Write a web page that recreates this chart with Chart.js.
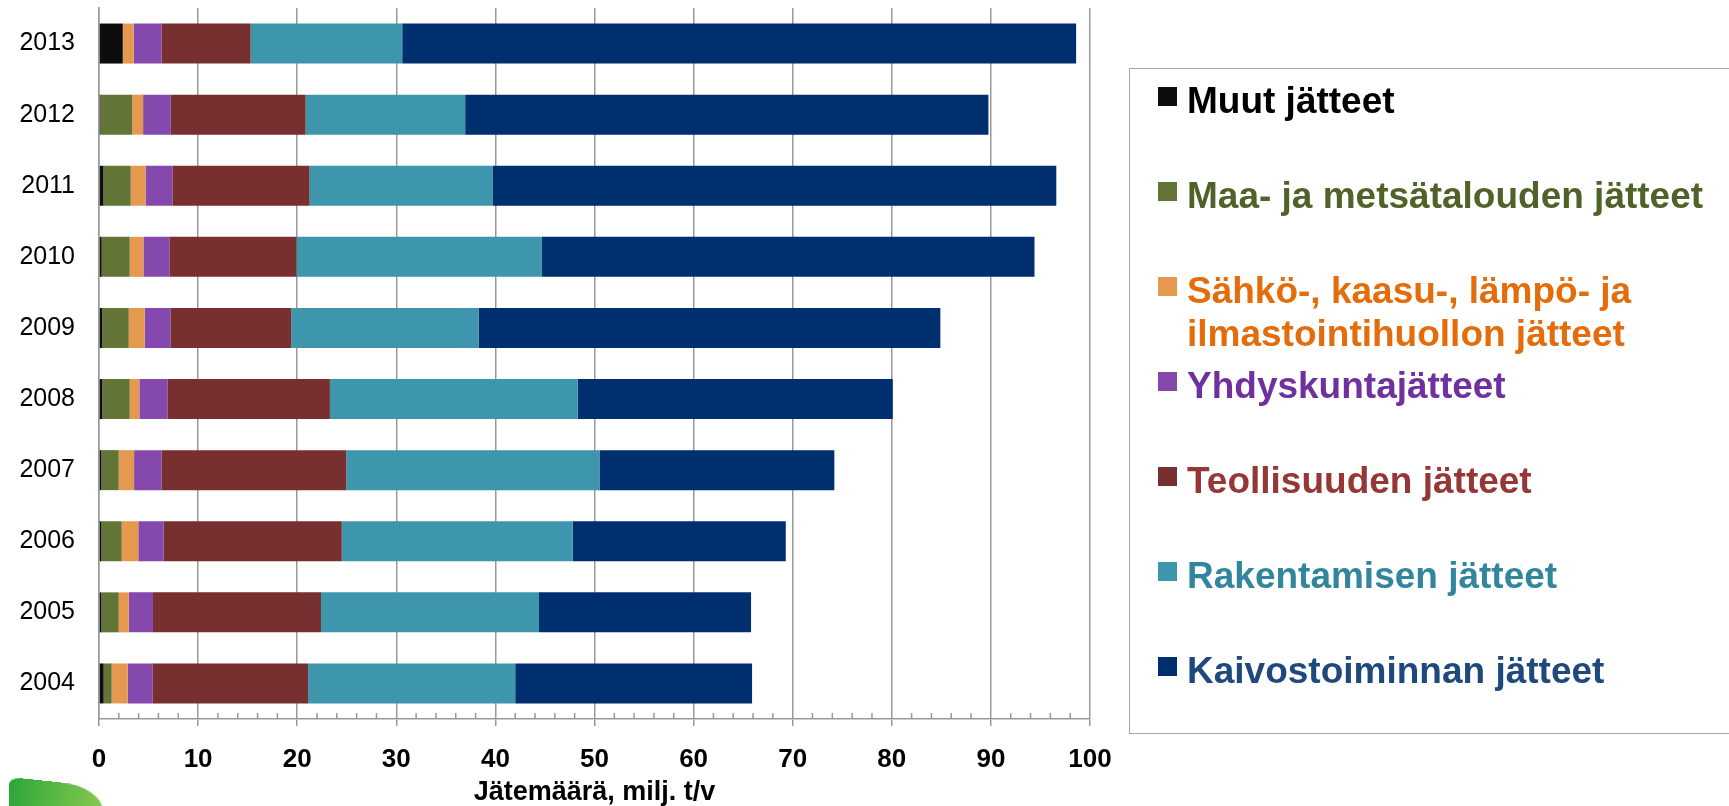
<!DOCTYPE html>
<html>
<head>
<meta charset="utf-8">
<script src="https://cdn.jsdelivr.net/npm/chart.js@4.4.0/dist/chart.umd.min.js"></script>
<style>
  body { margin: 0; background: #fff; overflow: hidden; font-family: "Liberation Sans", Arial, sans-serif; }
  #wrap { position: absolute; left: 0; top: 0; width: 1729px; height: 806px; }
  #legend { position: absolute; left: 1129px; top: 68px; width: 700px; height: 664px; border: 1.5px solid #a6a6a6; }
  .item { position: absolute; left: 28px; font-weight: bold; font-size: 37px; line-height: 43px; }
  .item .sw { position: absolute; left: 0; top: 8px; width: 19px; height: 19px; }
  .item .tx { position: absolute; left: 29px; top: 0; width: 560px; }
  #logo { position: absolute; left: 9px; top: 777px; width: 94px; height: 45px;
    background: linear-gradient(100deg, #2ca53a 0%, #5bb944 50%, #8dc951 100%);
    border-radius: 12px 40px 0 0 / 8px 24px 0 0;
    transform-origin: left top; transform: skewY(6deg); }
</style>
</head>
<body>
<div id="wrap"><canvas id="chart"></canvas></div>
<div id="legend"></div>
<div id="logo"></div>
<script>
// vuodet (alhaalta ylös)
const years = ["2004", "2005", "2006", "2007", "2008", "2009", "2010", "2011", "2012", "2013"];

// milj. t/v
const muut      = [0.47, 0.24, 0.24, 0.24, 0.34, 0.34, 0.27, 0.45, 0.15, 2.4];
const maaMetsa  = [0.81, 1.75, 2.05, 1.75, 2.76, 2.66, 2.83, 2.75, 3.2, 0];
const energia   = [1.62, 1.01, 1.68, 1.55, 0.97, 1.61, 1.38, 1.5, 1.1, 1.1];
const yhdyskunta = [2.49, 2.45, 2.56, 2.76, 2.83, 2.59, 2.62, 2.7, 2.8, 2.8];
const teollisuus = [15.71, 16.95, 17.97, 18.65, 16.4, 12.19, 12.83, 13.85, 13.6, 9.0];
const rakentaminen = [20.9, 22.0, 23.3, 25.55, 25.0, 18.91, 24.77, 18.45, 16.1, 15.3];
const kaivos    = [23.9, 21.4, 21.5, 23.7, 31.8, 46.6, 49.7, 56.9, 52.8, 68.0];

const xTicks = [0, 10, 20, 30, 40, 50, 60, 70, 80, 90, 100];

const seriesNames = [
  "Muut jätteet",
  "Maa- ja metsätalouden jätteet",
  "Sähkö-, kaasu-, lämpö- ja ilmastointihuollon jätteet",
  "Yhdyskuntajätteet",
  "Teollisuuden jätteet",
  "Rakentamisen jätteet",
  "Kaivostoiminnan jätteet",
];
const seriesData = [muut, maaMetsa, energia, yhdyskunta, teollisuus, rakentaminen, kaivos];
const barColor = ["#0d0d0d", "#627536", "#e5994f", "#8549ae", "#77302f", "#3d96ab", "#002f6f"];
const textColor = ["#000000", "#4f6228", "#e46c0a", "#7030a0", "#953735", "#31859c", "#1f497d"];

const FONT = '"Liberation Sans", Arial, sans-serif';
const GRID = "#999999";

// pienet väliviivat x-akselille
const minorTicks = {
  id: "minorTicks",
  afterDatasetsDraw(chart) {
    const x = chart.scales.x;
    const ctx = chart.ctx;
    const b = chart.chartArea.bottom;
    ctx.save();
    ctx.strokeStyle = GRID;
    ctx.lineWidth = 1.5;
    for (let v = 2; v < 100; v += 2) {
      if (v % 10 === 0) continue;
      const px = x.getPixelForValue(v);
      ctx.beginPath();
      ctx.moveTo(px, b - 6);
      ctx.lineTo(px, b);
      ctx.stroke();
    }
    ctx.restore();
  },
};

new Chart(document.getElementById("chart"), {
  type: "bar",
  data: {
    labels: years,
    datasets: seriesData.map((d, i) => ({
      label: seriesNames[i],
      data: d,
      backgroundColor: barColor[i],
      borderWidth: 0,
      barPercentage: 0.5626,
      categoryPercentage: 1,
    })),
  },
  options: {
    indexAxis: "y",
    responsive: true,
    maintainAspectRatio: false,
    animation: false,
    layout: { padding: { top: 8, right: 639, left: 0, bottom: 0 } },
    plugins: {
      legend: { display: false },
      tooltip: { enabled: false },
    },
    scales: {
      x: {
        stacked: true,
        min: 0,
        max: 100,
        afterBuildTicks: (s) => { s.ticks = xTicks.map((v) => ({ value: v })); },
        afterFit: (s) => { s.height = 87; },
        grid: { color: GRID, lineWidth: 1.5, drawTicks: true, tickLength: 7, tickColor: GRID },
        border: { color: GRID, width: 1.5 },
        ticks: { color: "#000", padding: 18, font: { family: FONT, size: 26, weight: "bold" } },
        title: {
          display: true,
          text: "Jätemäärä, milj. t/v",
          color: "#000",
          padding: 0,
          font: { family: FONT, size: 27, weight: "bold", lineHeight: 1.0 },
        },
      },
      y: {
        stacked: true,
        reverse: true,
        afterFit: (s) => {
          s.width = 99;
          s.paddingTop = 0;
          s.paddingBottom = 0;
        },
        grid: { display: false },
        border: { color: GRID, width: 1.5 },
        ticks: { color: "#000", padding: 16, font: { family: FONT, size: 25 } },
      },
    },
  },
  plugins: [minorTicks],
});

// selite
const legend = document.getElementById("legend");
seriesNames.forEach((name, i) => {
  const item = document.createElement("div");
  item.className = "item";
  item.style.top = 10 + i * 95 + "px";
  item.innerHTML = '<div class="sw" style="background:' + barColor[i] + '"></div>' +
    '<div class="tx" style="color:' + textColor[i] + '">' + name + "</div>";
  legend.appendChild(item);
});
</script>
</body>
</html>
